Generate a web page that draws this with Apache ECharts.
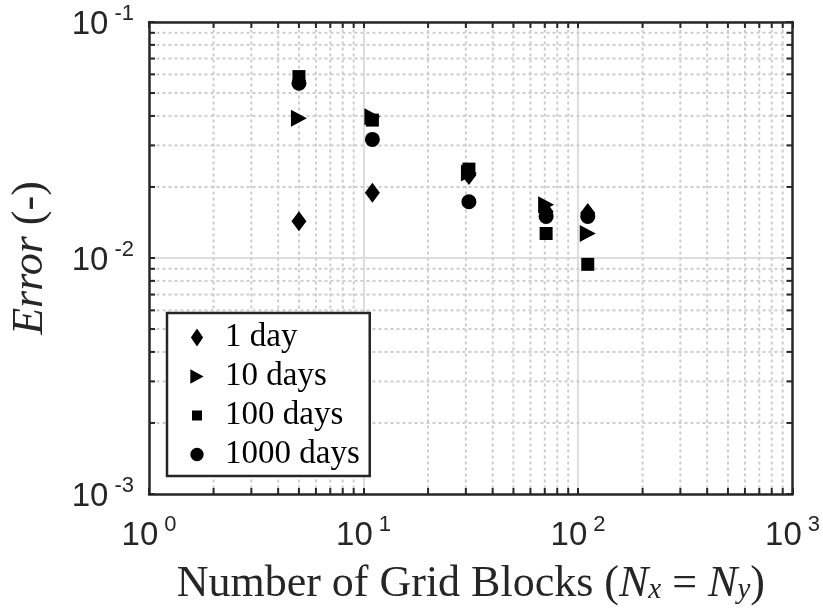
<!DOCTYPE html>
<html>
<head>
<meta charset="utf-8">
<script src="https://cdn.jsdelivr.net/npm/echarts@6/dist/echarts.min.js"></script>
<style>html,body{margin:0;padding:0;background:#fff;}#c{width:823px;height:616px;}</style>
</head>
<body>
<div id="c"></div>
<script>
// ---- data ----
var gridBlocks = [5, 11, 31, 71, 111];
var err1day    = [0.0143, 0.0189, 0.0225, 0.0157, 0.0155];
var err10days  = [0.0391, 0.0397, 0.0229, 0.0168, 0.0127];
var err100days = [0.0587, 0.0384, 0.0238, 0.0127, 0.0094];
var err1000days= [0.0550, 0.0318, 0.0173, 0.0150, 0.0150];
var seriesNames = ['1 day', '10 days', '100 days', '1000 days'];
// axis ranges and minor tick values
var xRange = [1, 1000];
var yRange = [0.001, 0.1];
var xMinorTicks = [2,3,4,5,6,7,8,9,20,30,40,50,60,70,80,90,200,300,400,500,600,700,800,900];
var yMinorTicks = [0.002,0.003,0.004,0.005,0.006,0.007,0.008,0.009,0.02,0.03,0.04,0.05,0.06,0.07,0.08,0.09];

var FRAME = '#262626';
var SANS = 'Liberation Sans';
var SERIF = 'Liberation Serif';

function pairs(xs, ys){ return xs.map(function(x,i){ return [x, ys[i]]; }); }

function expLabel(v){
  var e = Math.round(Math.log(v)/Math.LN10);
  return '{b|10}{s|' + e + '}';
}
var labelRich = {
  b: {fontFamily: SANS, fontSize: 33, color: FRAME, lineHeight: 38, verticalAlign: 'bottom'},
  s: {fontFamily: SANS, fontSize: 22, color: FRAME, lineHeight: 22, verticalAlign: 'top', padding: [0, 0, 0, 6]}
};

var chart = echarts.init(document.getElementById('c'), null, {renderer: 'canvas'});

function minorRender(isX){
  return function(params, api){
    var v = api.value(isX ? 0 : 1);
    var a, b, children = [];
    var tick = 6;
    if (isX){
      a = api.coord([v, yRange[1]]); b = api.coord([v, yRange[0]]);
      children.push({type:'line', shape:{x1:a[0], y1:a[1]+1.5, x2:b[0], y2:b[1]-1.5},
        style:{stroke:'#cdcdcd', lineWidth:2, lineDash:[3,3]}});
      children.push({type:'line', shape:{x1:a[0], y1:a[1], x2:a[0], y2:a[1]+tick}, style:{stroke:FRAME, lineWidth:2}});
      children.push({type:'line', shape:{x1:b[0], y1:b[1], x2:b[0], y2:b[1]-tick}, style:{stroke:FRAME, lineWidth:2}});
    } else {
      a = api.coord([xRange[0], v]); b = api.coord([xRange[1], v]);
      children.push({type:'line', shape:{x1:a[0]+1.5, y1:a[1], x2:b[0]-1.5, y2:b[1]},
        style:{stroke:'#cdcdcd', lineWidth:2, lineDash:[3,3]}});
      children.push({type:'line', shape:{x1:a[0], y1:a[1], x2:a[0]+tick, y2:a[1]}, style:{stroke:FRAME, lineWidth:2}});
      children.push({type:'line', shape:{x1:b[0], y1:b[1], x2:b[0]-tick, y2:b[1]}, style:{stroke:FRAME, lineWidth:2}});
    }
    return {type:'group', children: children};
  };
}

var xAxisBase = {
  type: 'log', logBase: 10, min: xRange[0], max: xRange[1],
  axisLine: {show: true, onZero: false, lineStyle: {color: FRAME, width: 2.5}},
  axisTick: {show: true, inside: true, length: 6, lineStyle: {color: FRAME, width: 2}},
  minorTick: {show: false}, minorSplitLine: {show: false}
};
var yAxisBase = {
  type: 'log', logBase: 10, min: yRange[0], max: yRange[1],
  axisLine: {show: true, onZero: false, lineStyle: {color: FRAME, width: 2.5}},
  axisTick: {show: true, inside: true, length: 6, lineStyle: {color: FRAME, width: 2}},
  minorTick: {show: false}, minorSplitLine: {show: false}
};

var markStyle = {color: '#000', opacity: 1};

var option = {
  backgroundColor: '#ffffff',
  animation: false,
  grid: {left: 148, right: 30, top: 22, bottom: 122, containLabel: false},
  xAxis: [
    Object.assign({}, xAxisBase, {
      position: 'bottom',
      splitLine: {show: true, showMinLine: false, showMaxLine: false, lineStyle: {color: '#dedede', width: 2}},
      axisLabel: {show: true, margin: 20, formatter: expLabel, rich: labelRich},
      name: '{r|Number of Grid Blocks (}{i|N}{sub|x}{r| = }{i|N}{sub|y}{r|)}',
      nameLocation: 'middle', nameGap: 69,
      nameTextStyle: {
        fontFamily: SERIF, fontSize: 44, color: FRAME,
        rich: {
          r: {fontFamily: SERIF, fontSize: 44, color: FRAME, lineHeight: 42},
          i: {fontFamily: SERIF, fontSize: 44, fontStyle: 'italic', color: FRAME, lineHeight: 42},
          sub: {fontFamily: SERIF, fontSize: 29, fontStyle: 'italic', color: FRAME, lineHeight: 18, verticalAlign: 'bottom'}
        }
      }
    }),
    Object.assign({}, xAxisBase, {
      position: 'top', splitLine: {show: false}, axisLabel: {show: false}
    })
  ],
  yAxis: [
    Object.assign({}, yAxisBase, {
      position: 'left',
      splitLine: {show: true, showMinLine: false, showMaxLine: false, lineStyle: {color: '#dedede', width: 2}},
      axisLabel: {show: true, margin: 15, formatter: expLabel, rich: labelRich},
      name: '{i|Error} {n|(-)}',
      nameLocation: 'middle', nameGap: 97,
      nameTextStyle: {
        fontFamily: SERIF, fontSize: 44, color: FRAME,
        rich: {
          i: {fontFamily: SERIF, fontSize: 44, fontStyle: 'italic', color: FRAME},
          n: {fontFamily: SERIF, fontSize: 44, color: FRAME}
        }
      }
    }),
    Object.assign({}, yAxisBase, {
      position: 'right', splitLine: {show: false}, axisLabel: {show: false}
    })
  ],
  legend: {
    orient: 'vertical', left: 167, top: 313,
    backgroundColor: '#ffffff', borderColor: FRAME, borderWidth: 2.5, borderRadius: 0,
    padding: [8, 10, 5, 20],
    itemWidth: 20, itemHeight: 20, itemGap: 6,
    itemStyle: {opacity: 1},
    textStyle: {fontFamily: SERIF, fontSize: 33, color: '#000', lineHeight: 31, padding: [0, 0, 0, 13]},
    data: [
      {name: seriesNames[0], icon: 'path://M0,0M18,18M9,1L14.5,9L9,17L3.5,9Z'},
      {name: seriesNames[1], icon: 'path://M0,0M18,18M3,2.5L15,9L3,15.5Z'},
      {name: seriesNames[2], icon: 'path://M0,0M18,18M4.5,4.5L13.5,4.5L13.5,13.5L4.5,13.5Z'},
      {name: seriesNames[3], icon: 'path://M0,0M18,18M3,9A6,6,0,1,1,15,9A6,6,0,1,1,3,9Z'}
    ],
    selectedMode: false
  },
  series: [
    {type: 'custom', name: 'xminor', silent: true, z: 1, clip: false,
     data: xMinorTicks.map(function(v){ return [v, 0.01]; }),
     encode: {x: 0, y: 1}, renderItem: minorRender(true)},
    {type: 'custom', name: 'yminor', silent: true, z: 1, clip: false,
     data: yMinorTicks.map(function(v){ return [10, v]; }),
     encode: {x: 0, y: 1}, renderItem: minorRender(false)},
    {type: 'scatter', name: seriesNames[0], z: 3, symbol: 'diamond', symbolSize: [15, 20],
     itemStyle: markStyle, data: pairs(gridBlocks, err1day)},
    {type: 'scatter', name: seriesNames[1], z: 3, symbol: 'path://M0,0L10,5L0,10Z', symbolSize: [16, 17],
     itemStyle: markStyle, data: pairs(gridBlocks, err10days)},
    {type: 'scatter', name: seriesNames[2], z: 3, symbol: 'rect', symbolSize: 13,
     itemStyle: markStyle, data: pairs(gridBlocks, err100days)},
    {type: 'scatter', name: seriesNames[3], z: 3, symbol: 'circle', symbolSize: 15,
     itemStyle: markStyle, data: pairs(gridBlocks, err1000days)}
  ]
};
chart.setOption(option);
</script>
</body>
</html>
